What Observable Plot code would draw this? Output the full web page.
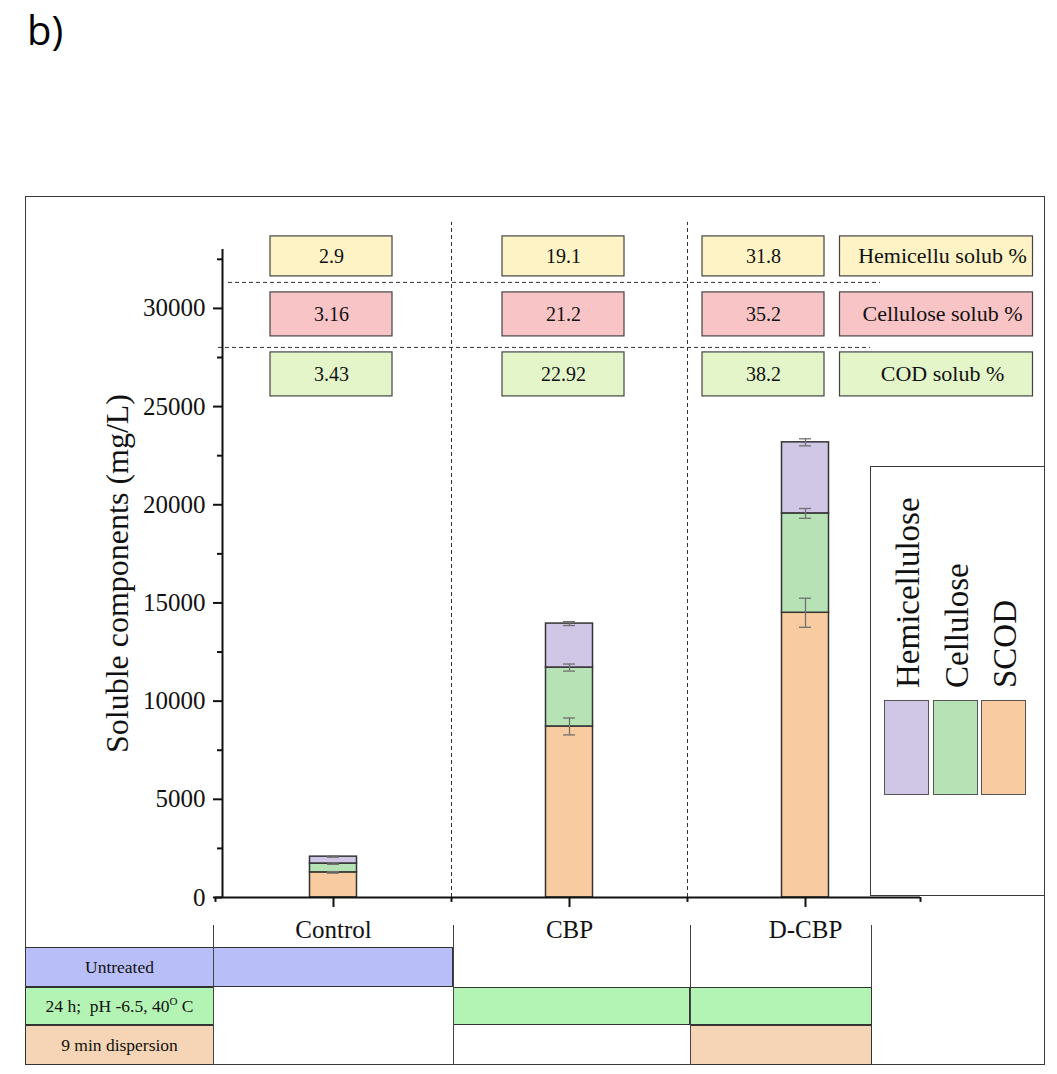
<!DOCTYPE html>
<html>
<head>
<meta charset="utf-8">
<script src="https://cdn.jsdelivr.net/npm/d3@7"></script>
<script src="https://cdn.jsdelivr.net/npm/@observablehq/plot@0.6"></script>
<style>
body { margin: 0; background: #fff; }
#root { position: relative; width: 1057px; height: 1074px; overflow: hidden; font-family: "Liberation Serif", serif; color: #111; }
.abs { position: absolute; box-sizing: border-box; }
sup { font-size: 11px; vertical-align: 0; position: relative; top: -7px; }
</style>
</head>
<body>
<div id="root"></div>
<script>
// ---------------- DATA ----------------
const categories = ["Control", "CBP", "D-CBP"];
const seriesNames = ["SCOD", "Cellulose", "Hemicellulose"];
const scod = [1280, 8710, 14500];
const scodErr = [40, 430, 740];
const cellulose = [450, 3000, 5060];
const celluloseErr = [40, 180, 250];
const hemicellulose = [350, 2240, 3620];
const hemicelluloseErr = [30, 100, 180];
const hemiSolub = [2.9, 19.1, 31.8];
const celluloseSolub = [3.16, 21.2, 35.2];
const codSolub = [3.43, 22.92, 38.2];
const solubLabels = ["Hemicellu solub %", "Cellulose solub %", "COD solub %"];
const yTicks = [0, 5000, 10000, 15000, 20000, 25000, 30000];
const yMinorTicks = [2500, 7500, 12500, 17500, 22500, 27500, 32500];
const yTitle = "Soluble components (mg/L)";
const treatments = ["Untreated", "24 h;&nbsp; pH -6.5, 40<sup>O</sup> C", "9 min dispersion"];
const appliedTreatments = [[0], [1], [1, 2]];

// ---------------- STYLE / LAYOUT ----------------
const seriesColors = ["#f8cba0", "#b6e2b6", "#d0c6e6"];
const solubFills = ["#fdf3c4", "#f9c4c6", "#e3f5c9"];
const treatmentFills = ["#b8bef8", "#b3f3b3", "#f5d5b5"];
const FONT = "Liberation Serif";
const W = 1057, H1 = 945;
const X0 = 215, X1 = 923, AXIS_X = 222;
const Y0PX = 897, YTOPPX = 249, YMAX = 33000;
const BW = (X1 - X0) / categories.length;
const BAR_W = 47, CAP_W = 12;
const boxRowsY = [[31630, 33667], [28574, 30815], [25518, 27759]];
const boxDx = [-2, -6, -42];
const BOX_W = 122, LABEL_DX = 131, LABEL_W = 193;
const hDash = [[31325, 6, 43], [28014, -4, 53]];
const vDashTop = 34380;

// ---------------- BUILD ----------------
const root = document.getElementById("root");
function addDiv(style, html) {
  const d = document.createElement("div");
  d.className = "abs";
  Object.assign(d.style, style);
  if (html != null) d.innerHTML = html;
  root.appendChild(d);
  return d;
}

// outer frame
addDiv({left: "25px", top: "196px", width: "1020px", height: "869px", border: "1.5px solid #3a3a3a"});
// panel label
addDiv({left: "27px", top: "10px", fontFamily: "'Open Sans', sans-serif", fontSize: "40px", lineHeight: "1", color: "#000"}, "b)");

const stack = [];
const seriesVals = [[scod, scodErr], [cellulose, celluloseErr], [hemicellulose, hemicelluloseErr]];
categories.forEach((c, i) => {
  let base = 0;
  seriesVals.forEach(([v, e], k) => {
    stack.push({cat: c, series: seriesNames[k], y1: base, y2: base + v[i], err: e[i]});
    base += v[i];
  });
});

const solubRows = [hemiSolub, celluloseSolub, codSolub];
const boxMarks = [];
solubRows.forEach((vals, r) => {
  const [ya, yb] = boxRowsY[r];
  categories.forEach((c, i) => {
    const d = [{cat: c, v: vals[i]}];
    boxMarks.push(Plot.barY(d, {x: "cat", y1: ya, y2: yb, fill: solubFills[r], stroke: "#444", strokeWidth: 1.2,
      insetLeft: (BW - BOX_W) / 2, insetRight: (BW - BOX_W) / 2, dx: boxDx[i]}));
    boxMarks.push(Plot.text(d, {x: "cat", y: (ya + yb) / 2, text: (e) => String(e.v), dx: boxDx[i],
      fontSize: 20, fontFamily: FONT, fill: "#111"}));
  });
  const ld = [{cat: categories[categories.length - 1], t: solubLabels[r]}];
  boxMarks.push(Plot.barY(ld, {x: "cat", y1: ya, y2: yb, fill: solubFills[r], stroke: "#444", strokeWidth: 1.2,
    insetLeft: (BW - LABEL_W) / 2, insetRight: (BW - LABEL_W) / 2, dx: LABEL_DX}));
  boxMarks.push(Plot.text(ld, {x: "cat", y: (ya + yb) / 2, text: "t", dx: LABEL_DX + 6,
    fontSize: 22, fontFamily: FONT, fill: "#111"}));
});

const edgeTick = 250;
const plot = Plot.plot({
  width: W,
  height: H1,
  marginLeft: AXIS_X,
  marginRight: W - X1,
  marginTop: YTOPPX,
  marginBottom: H1 - Y0PX,
  style: {background: "transparent", overflow: "visible", fontFamily: FONT},
  x: {type: "band", domain: categories, range: [X0, X1], padding: 0, axis: null},
  y: {domain: [0, YMAX], range: [Y0PX, YTOPPX], axis: null},
  color: {domain: seriesNames, range: seriesColors},
  marks: [
    // vertical dashed separators
    Plot.ruleX(categories.slice(1), {x: (d) => d, dx: -BW / 2, y1: 0, y2: vDashTop, stroke: "#333", strokeWidth: 1, strokeDasharray: "4,3"}),
    // horizontal dashed separators
    ...hDash.map(([v, l, r]) => Plot.ruleY([v], {insetLeft: l, insetRight: r, stroke: "#333", strokeWidth: 1, strokeDasharray: "4,3"})),
    // stacked bars
    Plot.barY(stack, {x: "cat", y1: "y1", y2: "y2", fill: "series", stroke: "#333", strokeWidth: 1.5,
      insetLeft: (BW - BAR_W) / 2, insetRight: (BW - BAR_W) / 2}),
    // error bars
    Plot.ruleX(stack, {x: "cat", y1: (d) => d.y2 - d.err, y2: (d) => d.y2 + d.err, stroke: "#707070", strokeWidth: 1.3}),
    Plot.tickY(stack, {x: "cat", y: (d) => d.y2 - d.err, insetLeft: (BW - CAP_W) / 2, insetRight: (BW - CAP_W) / 2, stroke: "#707070", strokeWidth: 1.3}),
    Plot.tickY(stack, {x: "cat", y: (d) => d.y2 + d.err, insetLeft: (BW - CAP_W) / 2, insetRight: (BW - CAP_W) / 2, stroke: "#707070", strokeWidth: 1.3}),
    // annotation boxes
    ...boxMarks,
    // x axis line and edge ticks
    Plot.ruleY([0], {insetLeft: X0 - AXIS_X, insetRight: 3, stroke: "#111", strokeWidth: 2}),
    Plot.ruleX(categories, {x: (d) => d, dx: -BW / 2, y1: 0, y2: -edgeTick, stroke: "#111", strokeWidth: 2}),
    Plot.ruleX(categories.slice(-1), {x: (d) => d, dx: BW / 2 - 3, y1: 0, y2: -edgeTick, stroke: "#111", strokeWidth: 2}),
    // y axis line
    Plot.ruleX(categories.slice(0, 1), {x: (d) => d, dx: AXIS_X - (X0 + BW / 2), y1: 0, y2: YMAX, stroke: "#111", strokeWidth: 2}),
    Plot.axisY({ticks: yTicks, tickSize: 9, tickPadding: 8, tickFormat: "d", fontSize: 25, fontFamily: FONT, label: null, color: "#111", strokeWidth: 2}),
    Plot.axisY({ticks: yMinorTicks, tickSize: 5, tickFormat: () => "", label: null, color: "#111", strokeWidth: 2}),
    Plot.axisX({tickSize: 10, tickPadding: 13, fontSize: 25, fontFamily: FONT, label: null, color: "#111", strokeWidth: 2}),
    // y title
    Plot.text([yTitle], {frameAnchor: "left", textAnchor: "middle", text: (d) => d, rotate: -90, dx: -105, fontSize: 32, fontFamily: FONT, fill: "#111"})
  ]
});
plot.style.position = "absolute";
plot.style.left = "0px";
plot.style.top = "0px";
root.appendChild(plot);

// legend
addDiv({left: "870px", top: "466px", width: "175px", height: "430px", border: "1.5px solid #3a3a3a"});
[2, 1, 0].forEach((k, j) => {
  const left = 884 + j * 48.5;
  addDiv({left: left + "px", top: "700px", width: "45px", height: "95px", background: seriesColors[k], border: "1.5px solid #555"});
  addDiv({left: (left + 8) + "px", top: "688px", fontSize: "33px", lineHeight: "1", whiteSpace: "nowrap",
    transform: "rotate(-90deg)", transformOrigin: "0 0", fontFamily: FONT, color: "#111"}, seriesNames[k]);
});

// treatment table
const rowTops = [947, 987, 1025], rowHeights = [40, 38, 40];
const colLeft = [213, 453, 690], colWidth = [240, 237, 182];
const cellBorder = "1.5px solid #333";
treatments.forEach((t, r) => {
  addDiv({left: "25px", top: rowTops[r] + "px", width: "189px", height: rowHeights[r] + "px", background: treatmentFills[r],
    border: cellBorder, display: "flex", alignItems: "center", justifyContent: "center", fontSize: "17.5px", fontFamily: FONT, whiteSpace: "nowrap"},
    "<span>" + t + "</span>");
});
categories.forEach((c, i) => {
  appliedTreatments[i].forEach((t) => {
    addDiv({left: colLeft[i] + "px", top: rowTops[t] + "px", width: colWidth[i] + "px", height: rowHeights[t] + "px",
      background: treatmentFills[t], border: cellBorder});
  });
});
[[213, 925, 140], [453, 925, 140], [690, 925, 140], [871, 925, 62]].forEach(([x, y, h]) => {
  addDiv({left: x + "px", top: y + "px", width: "0px", height: h + "px", borderLeft: "1.2px solid #444"});
});
</script>
</body>
</html>
